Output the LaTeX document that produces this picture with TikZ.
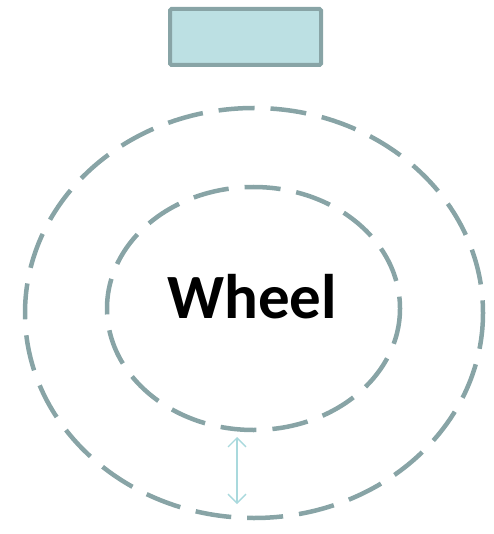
\documentclass[tikz,border=0pt]{standalone}
\usepackage{fontspec}
\setmainfont{Carlito}
\usetikzlibrary{arrows.meta}
\definecolor{ringgray}{HTML}{88A4A6}
\definecolor{boxfill}{HTML}{BCE0E3}
\definecolor{arrowcyan}{HTML}{A9D9DD}
\tikzset{
  ring/.style={draw=ringgray, line width=4.5pt, dash pattern=on 36pt off 16pt},
  topbox/.style={draw=ringgray, fill=boxfill, line width=4pt, rounded corners=1.5pt, minimum width=151pt, minimum height=56pt, inner sep=0pt},
  gap/.style={draw=arrowcyan, line width=1.3pt, {Straight Barb[length=9pt,width=18pt]}-{Straight Barb[length=9pt,width=18pt]}}
}
\begin{document}
\begin{tikzpicture}[x=1pt,y=-1pt]
\useasboundingbox (0,0) rectangle (493,534);
\node[topbox] (box) at (245.5,37) {};
\draw[ring] (254,313) ellipse [x radius=229, y radius=205];
\draw[ring] (253.5,308.5) ellipse [x radius=146.5, y radius=121.5];
\node[font=\bfseries\fontsize{63}{70}\selectfont, inner sep=0pt, anchor=base] (label) at (252,318) {Wheel};
\coordinate (inner) at (237,437);
\coordinate (outer) at (237,504);
\draw[gap] (inner) -- (outer);
\end{tikzpicture}
\end{document}
